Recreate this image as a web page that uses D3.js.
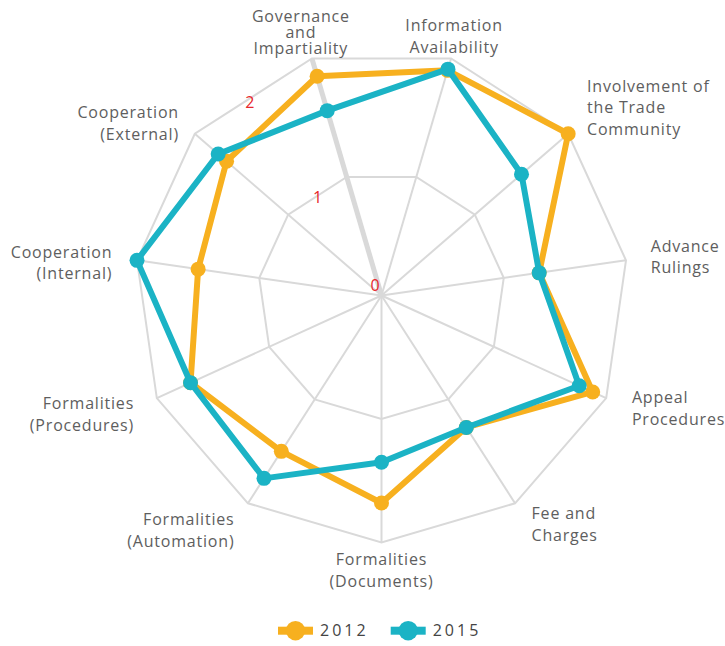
<!DOCTYPE html>
<html>
<head>
<meta charset="utf-8">
<script src="https://cdn.jsdelivr.net/npm/d3@7/dist/d3.min.js"></script>
<style>
  html, body { margin: 0; padding: 0; background: #ffffff; }
  svg { display: block; }
  text { font-family: "Open Sans", "Noto Sans", sans-serif; }
</style>
</head>
<body>
<svg id="chart" width="725" height="646"></svg>
<script>
// ---------- data ----------
const categories = [
  "Governance\nand\nImpartiality",
  "Information\nAvailability",
  "Involvement of\nthe Trade\nCommunity",
  "Advance\nRulings",
  "Appeal\nProcedures",
  "Fee and\nCharges",
  "Formalities\n(Documents)",
  "Formalities\n(Automation)",
  "Formalities\n(Procedures)",
  "Cooperation\n(Internal)",
  "Cooperation\n(External)"
];
const seriesNames = ["2012", "2015"];
const values2012 = [1.85, 1.90, 2.00, 1.29, 1.88, 1.27, 1.68, 1.50, 1.70, 1.50, 1.66];
const values2015 = [1.56, 1.91, 1.50, 1.29, 1.76, 1.27, 1.35, 1.76, 1.70, 2.00, 1.75];
const tickValues = [0, 1, 2];
const tickLabels = ["0", "1", "2"];
const seriesColors = ["#F7B01F", "#1BB3C5"];

// ---------- layout ----------
const svg = d3.select("#chart");
const cx = 381.5, cy = 295.5, R = 247;
const n = categories.length;
const step = 2 * Math.PI / n;
const angle = i => -step / 2 + i * step;            // radians, clockwise from top
const rScale = d3.scaleLinear().domain([0, 2]).range([0, R]);
const pt = (i, v) => {
  const a = angle(i), r = rScale(v);
  return [cx + r * Math.sin(a), cy - r * Math.cos(a)];
};

const gridColor = "#D9D9D9";
const g = svg.append("g");

// spokes
categories.forEach((c, i) => {
  const [x, y] = pt(i, 2);
  g.append("line")
    .attr("x1", cx).attr("y1", cy).attr("x2", x).attr("y2", y)
    .attr("stroke", gridColor)
    .attr("stroke-width", i === 0 ? 5 : 2);
});

// rings
tickValues.filter(v => v > 0).forEach(v => {
  const pts = categories.map((c, i) => pt(i, v));
  g.append("path")
    .attr("d", d3.line()(pts) + "Z")
    .attr("fill", "none")
    .attr("stroke", gridColor)
    .attr("stroke-width", 2)
    .attr("stroke-linejoin", "miter");
});

// tick labels (along direction between last and first axis)
tickValues.forEach((v, k) => {
  const ta = (-32 - v * 1.1) * Math.PI / 180;
  const r = 12 + 0.9 * rScale(v) - (v === 1 ? 6 : 0);
  g.append("text")
    .attr("x", cx + r * Math.sin(ta))
    .attr("y", cy - r * Math.cos(ta) + 6)
    .attr("text-anchor", "middle")
    .attr("font-size", 16)
    .attr("fill", "#E8262B")
    .text(tickLabels[k]);
});

// category labels
categories.forEach((c, i) => {
  const a = angle(i);
  const s = Math.sin(a), co = Math.cos(a);
  const rr = R + 25;
  const lines = c.split("\n");
  const anchor = Math.abs(s) < 0.3 ? "middle" : (s > 0 ? "start" : "end");
  let ax = cx + rr * s, ay = cy - rr * co;
  if (anchor === "middle" && co > 0) ax -= 4;
  if (anchor === "start" && co < 0) ax += 3;
  if (anchor === "end" && co > 0.5) ax += 3;
  if (s < -0.3) ay += 6;
  if (s > 0.3 && lines.length > 2) ay -= 10;
  if (anchor === "middle") ay += (co > 0 ? (lines.length > 2 ? -2 : 2) : 3);
  const lh = i === 0 ? 16 : 21.5;
  const firstBaseline = ay + 5.7 - (lines.length - 1) * lh / 2;
  const t = g.append("text")
    .attr("text-anchor", anchor)
    .attr("font-size", 16)
    .attr("letter-spacing", "0.8px")
    .attr("fill", "#5E5E5E");
  lines.forEach((ln, j) => {
    t.append("tspan")
      .attr("x", ax)
      .attr("y", firstBaseline + j * lh)
      .text(ln);
  });
});

// series
const allSeries = [values2012, values2015];
allSeries.forEach((vals, si) => {
  const pts = vals.map((v, i) => pt(i, v));
  const sg = svg.append("g");
  sg.append("path")
    .attr("d", d3.line()(pts) + "Z")
    .attr("fill", "none")
    .attr("stroke", seriesColors[si])
    .attr("stroke-width", 6)
    .attr("stroke-linejoin", "round");
  sg.selectAll("circle")
    .data(pts)
    .join("circle")
    .attr("cx", d => d[0])
    .attr("cy", d => d[1])
    .attr("r", 7.5)
    .attr("fill", seriesColors[si]);
});

// legend
const legend = svg.append("g");
const legendY = 630.7;
const legendStart = 278;
const itemWidth = 112.7;
seriesNames.forEach((name, si) => {
  const x0 = legendStart + si * itemWidth;
  const lg = legend.append("g");
  lg.append("rect")
    .attr("x", x0).attr("y", legendY - 4)
    .attr("width", 35).attr("height", 8)
    .attr("fill", seriesColors[si]);
  lg.append("circle")
    .attr("cx", x0 + 17.5).attr("cy", legendY)
    .attr("r", 9.7)
    .attr("fill", seriesColors[si]);
  lg.append("text")
    .attr("x", x0 + 42).attr("y", legendY + 5.7)
    .attr("font-size", 16)
    .attr("letter-spacing", "3px")
    .attr("fill", "#444444")
    .text(name);
});
</script>
</body>
</html>
